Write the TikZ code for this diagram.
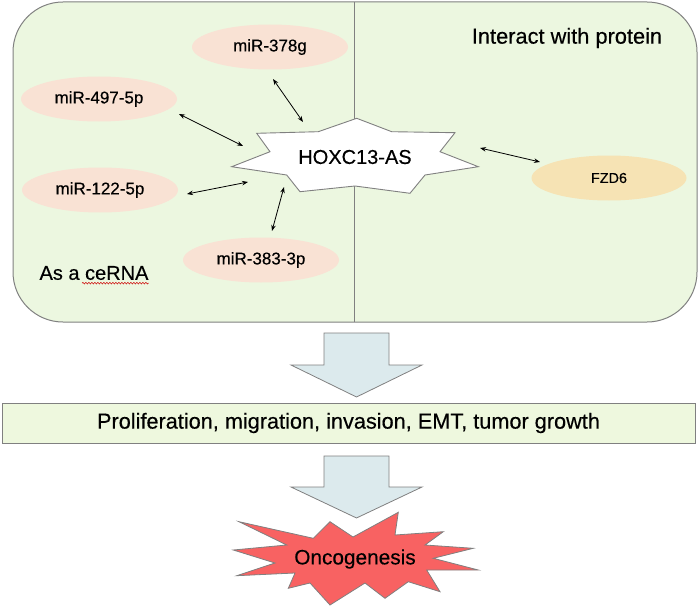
\documentclass[tikz,border=0pt]{standalone}
\usepackage{fontspec}
\setmainfont{Liberation Sans}[FakeBold=0.35]
\usetikzlibrary{arrows.meta,shapes.geometric,decorations.pathmorphing}
\definecolor{boxgreen}{RGB}{236,247,224}
\definecolor{rectgreen}{RGB}{238,248,222}
\definecolor{bordergray}{RGB}{128,128,128}
\definecolor{mirpeach}{RGB}{249,226,212}
\definecolor{fzdtan}{RGB}{246,227,180}
\definecolor{arrowblue}{RGB}{220,234,237}
\definecolor{explred}{RGB}{248,98,98}
\begin{document}
\begin{tikzpicture}[x=1pt,y=-1pt,
  mir/.style={ellipse,fill=mirpeach,draw=none,minimum width=156pt,minimum height=45pt,inner sep=0pt,font=\fontsize{17}{19}\selectfont},
  fzd/.style={ellipse,fill=fzdtan,draw=none,minimum width=155pt,minimum height=45pt,inner sep=0pt,font=\fontsize{14.4}{16}\selectfont},
  link/.style={{Stealth[length=6pt,width=4.5pt]}-{Stealth[length=6pt,width=4.5pt]},line width=0.8pt,black},
  blockarrow/.style={fill=arrowblue,draw=bordergray,line width=0.8pt,line join=miter},
  lbl/.style={inner sep=0pt}]
\useasboundingbox (0,0) rectangle (699,610);
% main panel
\draw[fill=boxgreen,draw=bordergray,line width=1pt,rounded corners=50pt] (13,2) rectangle (697,322);
\draw[bordergray,line width=1pt] (354,2) -- (354,322);
% HOXC13-AS star
\draw[fill=white,draw=bordergray,line width=0.9pt,line join=miter]
  (231.7,166.7) -- (270,151.7) -- (256.7,133.3) -- (318.3,131.7) -- (356.7,118.3)
  -- (391.7,131.7) -- (455,132.7) -- (440,151.7) -- (478.3,166.7) -- (425,175)
  -- (410,193.3) -- (355,186) -- (300,191.7) -- (286.7,175) -- cycle;
\node[inner sep=0pt,font=\fontsize{20}{24}\selectfont] (hox) at (355,157) {HOXC13-AS};
% miRNA ellipses
\node[mir] (m378) at (270,47) {miR-378g};
\node[mir] (m497) at (99,99) {miR-497-5p};
\node[mir] (m122) at (100,190) {miR-122-5p};
\node[mir] (m383) at (261,260) {miR-383-3p};
\node[fzd] (fzd) at (609,178) {FZD6};
% labels
\node[lbl,font=\fontsize{21.8}{24}\selectfont] (lint) at (567,38) {Interact with protein};
\node[lbl,font=\fontsize{20}{24}\selectfont] (lce) at (94,273) {As a ceRNA};
\draw[red!80!black,line width=0.5pt,decorate,decoration={snake,amplitude=0.8pt,segment length=3pt}]
  ([xshift=-12pt,yshift=-3pt]lce.south) -- ([yshift=-3pt]lce.south east);
% connector end points
\coordinate (c1a) at (273,79);  \coordinate (c1b) at (303,122);
\coordinate (c2a) at (179,114); \coordinate (c2b) at (243,146);
\coordinate (c3a) at (187,194); \coordinate (c3b) at (248,182);
\coordinate (c4a) at (284,187); \coordinate (c4b) at (272,231);
\coordinate (c5a) at (480,148); \coordinate (c5b) at (540,162);
\draw[link] (c1a) -- (c1b);
\draw[link] (c2a) -- (c2b);
\draw[link] (c3a) -- (c3b);
\draw[link] (c4a) -- (c4b);
\draw[link] (c5a) -- (c5b);
% block arrow 1
\draw[blockarrow] (324,333) -- (389,333) -- (389,365) -- (422,365) -- (356.5,397) -- (291,365) -- (324,365) -- cycle;
% outcome rectangle
\node[draw=bordergray,fill=rectgreen,line width=1pt,minimum width=693pt,minimum height=40pt,inner sep=0pt,
  font=\fontsize{21.7}{24}\selectfont] (out) at (348.5,423) {Proliferation, migration, invasion, EMT, tumor growth};
% block arrow 2
\draw[blockarrow] (324,456) -- (389,456) -- (389,487) -- (422,487) -- (356.5,518) -- (291,487) -- (324,487) -- cycle;
% explosion
\draw[fill=explred,draw=bordergray,line width=0.8pt,line join=miter]
  (239,521.7) -- (313.3,538.3) -- (330,521.7) -- (353,537) -- (398.3,512.3) -- (395,535)
  -- (443.3,531.7) -- (425,545) -- (473.3,548.3) -- (433.3,558.3) -- (478.3,570) -- (426.7,570)
  -- (440,591.7) -- (408.3,581.7) -- (385,598.3) -- (365,583) -- (330,605) -- (310,583)
  -- (288.3,588.3) -- (295,573) -- (236.7,575.7) -- (275,563) -- (233.3,550) -- (286.7,545) -- cycle;
\node[inner sep=0pt,font=\fontsize{20.8}{24}\selectfont] (onc) at (355,559) {Oncogenesis};
\end{tikzpicture}
\end{document}
